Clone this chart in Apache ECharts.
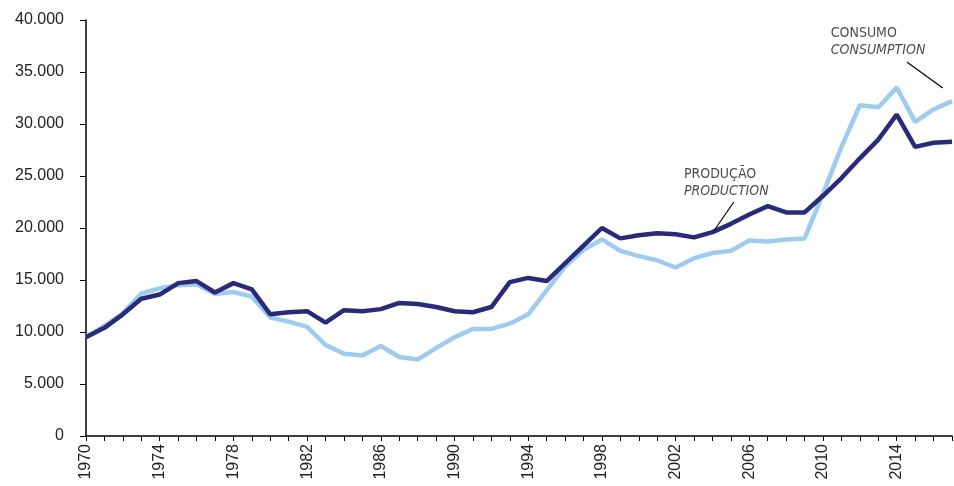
<!DOCTYPE html>
<html>
<head>
<meta charset="utf-8">
<script src="https://cdn.jsdelivr.net/npm/echarts@6/dist/echarts.min.js"></script>
<style>html,body{margin:0;padding:0;background:#fff}#c{width:954px;height:486px}</style>
</head>
<body>
<div id="c"></div>
<script>
const years = [];
for (let y = 1970; y <= 2017; y++) years.push(String(y));

const production = [9500,10400,11700,13200,13600,14700,14900,13800,14700,14100,11700,11900,12000,10900,12100,12000,12200,12800,12700,12400,12000,11900,12400,14800,15200,14900,16600,18300,20000,19000,19300,19500,19400,19100,19600,20400,21300,22100,21500,21500,23100,24800,26700,28500,30900,27800,28200,28300];
const consumption = [9500,10600,11800,13700,14200,14500,14600,13650,13850,13400,11400,11000,10500,8750,7900,7750,8650,7600,7350,8450,9500,10300,10300,10800,11700,14000,16300,17900,18900,17800,17300,16900,16200,17100,17600,17800,18800,18700,18900,19000,23300,27800,31800,31600,33500,30200,31400,32200];

const yTicks = [0,5000,10000,15000,20000,25000,30000,35000,40000];

// annotation anchors in data space (year, value)
const consLabelAt = [2010.42, 39500];
const consLeader = [[2014.55, 35960], [2016.5, 33460]];
const prodLabelAt = [2002.45, 26000];
const prodLeader = [[2005.16, 22500], [2004.07, 19710]];

const fmt = v => v === 0 ? '0' : String(v).replace(/\B(?=(\d{3})+(?!\d))/g, '.');

const annFont = '"Liberation Sans Narrow","DejaVu Sans Condensed",sans-serif';
const rich = {
  a: {fontFamily: annFont, fontSize: 14, color: '#1a1a1a', lineHeight: 17},
  b: {fontFamily: annFont, fontSize: 14, color: '#1a1a1a', fontStyle: 'italic', lineHeight: 17}
};
const axFont = '"Liberation Sans", Arial, sans-serif';

const chart = echarts.init(document.getElementById('c'), null, {renderer: 'canvas'});
chart.setOption({
  animation: false,
  grid: {left: 86, right: 2, top: 20, bottom: 50, containLabel: false},
  xAxis: [{
    type: 'category', data: years, boundaryGap: false,
    axisLine: {lineStyle: {color: '#000', width: 1.5}},
    axisTick: {show: true, interval: 0, length: 5, lineStyle: {color: '#000', width: 1}},
    axisLabel: {interval: 3, rotate: 90, margin: 8, color: '#222', fontSize: 16, fontFamily: axFont},
    splitLine: {show: false}
  }, {
    type: 'value', min: 1970, max: 2017, show: false
  }],
  yAxis: {
    type: 'value', min: 0, max: 40000, interval: 5000,
    axisLine: {show: true, lineStyle: {color: '#000', width: 1.5}},
    axisTick: {show: true, length: 6, lineStyle: {color: '#000'}},
    axisLabel: {margin: 22, color: '#222', fontSize: 16, fontFamily: axFont, formatter: fmt},
    splitLine: {show: false}
  },
  series: [
    {type: 'line', data: consumption, symbol: 'none', lineStyle: {color: '#9ecbee', width: 4.5}, z: 2},
    {type: 'line', data: production, symbol: 'none', lineStyle: {color: '#2a2b78', width: 4.5}, z: 3},
    {type: 'line', xAxisIndex: 1, data: consLeader, symbol: 'none', silent: true, lineStyle: {color: '#000', width: 1.2}, z: 4},
    {type: 'line', xAxisIndex: 1, data: prodLeader, symbol: 'none', silent: true, lineStyle: {color: '#000', width: 1.2}, z: 4},
    {type: 'scatter', xAxisIndex: 1, symbolSize: 0, silent: true, data: [consLabelAt],
      label: {show: true, position: [0, 0], align: 'left', verticalAlign: 'top', formatter: '{a|CONSUMO}\n{b|CONSUMPTION}', rich}},
    {type: 'scatter', xAxisIndex: 1, symbolSize: 0, silent: true, data: [prodLabelAt],
      label: {show: true, position: [0, 0], align: 'left', verticalAlign: 'top', formatter: '{a|PRODUÇÃO}\n{b|PRODUCTION}', rich}}
  ]
});
</script>
</body>
</html>
